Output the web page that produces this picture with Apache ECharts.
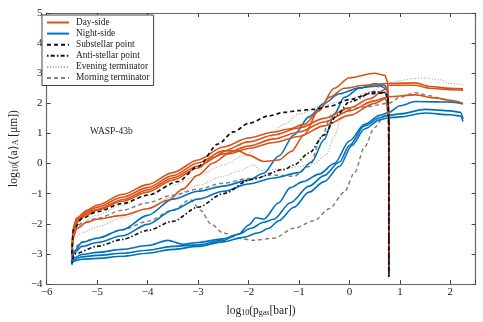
<!DOCTYPE html>
<html><head><meta charset="utf-8">
<script src="https://cdn.jsdelivr.net/npm/echarts@6/dist/echarts.min.js"></script>
<style>html,body{margin:0;padding:0;background:#fff}#c{width:483px;height:322px}</style>
</head><body><div id="c"></div>
<script>
// ---- axis ticks ----
const xTicks = [-6, -5, -4, -3, -2, -1, 0, 1, 2];
const xMax = 2.5;
const yTicks = [-4, -3, -2, -1, 0, 1, 2, 3, 4, 5];
const legendNames = ['Day-side', 'Night-side', 'Substellar point', 'Anti-stellar point', 'Evening terminator', 'Morning terminator'];
const annotation = 'WASP-43b';

// ---- Day-side (orange) ----
const day1 = [[-5.5,-3.1],[-5.47,-2.3],[-5.4,-1.95],[-5.2,-1.7],[-5,-1.55],[-4.5,-1.25],[-4,-0.95],[-3.5,-0.55],[-3,-0.15],[-2.7,0.2],[-2.45,0.42],[-2.2,0.42],[-2,0.28],[-1.7,0.07],[-1.4,0.12],[-1.15,0.4],[-0.9,0.95],[-0.6,1.8],[-0.3,2.5],[0,2.85],[0.5,3.0],[0.7,2.93],[0.76,2.7],[0.78,1.5],[0.78,-3.75]];
const day2 = [[-5.5,-3.0],[-5.47,-2.1],[-5.4,-1.8],[-5.2,-1.55],[-5,-1.38],[-4.5,-1.03],[-4,-0.7],[-3.5,-0.3],[-3,0.12],[-2.5,0.55],[-2,0.85],[-1.5,1.05],[-1.2,1.15],[-0.9,1.3],[-0.6,1.75],[-0.4,2.2],[-0.1,2.5],[0.3,2.6],[0.78,2.66],[1.3,2.68],[1.6,2.56],[2.0,2.5],[2.25,2.48]];
const day3 = [[-5.5,-3.0],[-5.47,-2.15],[-5.4,-1.85],[-5.2,-1.6],[-5,-1.45],[-4.5,-1.12],[-4,-0.8],[-3.5,-0.4],[-3,0.02],[-2.5,0.42],[-2,0.72],[-1.5,0.95],[-1,1.18],[-0.5,1.5],[0,1.85],[0.4,2.15],[0.7,2.45],[0.78,2.6],[1.3,2.6],[1.6,2.5],[2.0,2.45],[2.25,2.44]];
const day4 = [[-5.5,-3.0],[-5.47,-2.2],[-5.4,-1.9],[-5.2,-1.65],[-5,-1.52],[-4.5,-1.2],[-4,-0.88],[-3.5,-0.48],[-3,-0.08],[-2.5,0.32],[-2,0.58],[-1.5,0.82],[-1,1.05],[-0.5,1.38],[0,1.75],[0.5,2.08],[0.78,2.22],[1.3,2.28],[1.7,2.18],[2.0,2.1],[2.25,2.0]];
const day5 = [[-5.5,-3.1],[-5.47,-2.45],[-5.4,-2.15],[-5.2,-1.95],[-5,-1.85],[-4.5,-1.72],[-4,-1.5],[-3.6,-1.22],[-3.3,-0.85],[-3,-0.38],[-2.7,0.02],[-2.4,0.32],[-2,0.5],[-1.5,0.7],[-1,0.9],[-0.5,1.25],[0,1.6],[0.5,2.0],[0.72,2.15],[0.78,1.5],[0.78,-3.75]];

// ---- Night-side (blue) ----
const night1 = [[-5.5,-3.3],[-5.47,-2.95],[-5.3,-2.62],[-5,-2.48],[-4.5,-2.2],[-4,-1.72],[-3.5,-1.18],[-3,-0.92],[-2.5,-0.75],[-2,-0.55],[-1.7,-0.32],[-1.4,0.25],[-1.1,0.95],[-0.8,1.55],[-0.5,2.0],[-0.2,2.32],[0.2,2.52],[0.6,2.58],[0.74,2.48],[0.78,1.5],[0.78,-3.75]];
const night2 = [[-5.5,-3.3],[-5.47,-3.0],[-5.3,-2.75],[-5,-2.62],[-4.5,-2.4],[-4,-2.02],[-3.5,-1.55],[-3,-1.18],[-2.5,-0.92],[-2,-0.68],[-1.5,-0.48],[-1,-0.3],[-0.75,0.05],[-0.5,0.8],[-0.3,1.65],[-0.1,2.2],[0.2,2.5],[0.5,2.65],[0.7,2.6],[0.76,2.45],[0.78,1.5],[0.78,-3.75]];
const night3 = [[-5.5,-3.35],[-5.47,-3.15],[-5.3,-3.02],[-5,-2.95],[-4.5,-2.85],[-4,-2.72],[-3.6,-2.55],[-3.3,-2.68],[-3,-2.62],[-2.5,-2.5],[-2.2,-2.35],[-2.0,-2.05],[-1.85,-1.8],[-1.7,-1.85],[-1.4,-1.3],[-1.17,-0.8],[-0.92,-0.6],[-0.6,-0.35],[-0.3,0.0],[0,0.75],[0.3,1.3],[0.6,1.6],[0.78,1.7],[1.0,1.92],[1.3,2.06],[1.7,2.05],[2.05,2.04],[2.25,1.98]];
const night4 = [[-5.5,-3.35],[-5.47,-3.2],[-5.3,-3.1],[-5,-3.05],[-4.5,-2.98],[-4,-2.88],[-3.5,-2.75],[-3,-2.7],[-2.5,-2.55],[-2.2,-2.35],[-1.95,-2.15],[-1.7,-1.95],[-1.5,-1.85],[-1.17,-1.3],[-0.8,-0.75],[-0.5,-0.4],[-0.2,0.05],[0,0.6],[0.3,1.25],[0.6,1.52],[0.78,1.6],[1.0,1.65],[1.5,1.8],[2.0,1.75],[2.2,1.7],[2.25,1.48]];
const night5 = [[-5.5,-3.35],[-5.47,-3.25],[-5.3,-3.18],[-5,-3.15],[-4.5,-3.08],[-4,-2.98],[-3.5,-2.85],[-3,-2.75],[-2.5,-2.6],[-2.1,-2.45],[-1.8,-2.3],[-1.6,-2.15],[-1.4,-1.9],[-1.1,-1.45],[-0.8,-0.95],[-0.5,-0.6],[-0.2,-0.1],[0.05,0.6],[0.3,1.15],[0.6,1.45],[0.78,1.52],[1.0,1.55],[1.5,1.68],[2.0,1.62],[2.2,1.58],[2.25,1.4]];

// ---- Substellar point (black dashed) ----
const substellar = [[-5.5,-3.0],[-5.47,-2.2],[-5.3,-1.82],[-5,-1.6],[-4.5,-1.33],[-4,-1.05],[-3.4,-0.6],[-3,-0.1],[-2.6,0.65],[-2.3,1.05],[-2,1.33],[-1.6,1.58],[-1.3,1.7],[-1,1.76],[-0.7,1.8],[-0.4,1.9],[0,2.12],[0.4,2.32],[0.7,2.35],[0.76,2.2],[0.78,1.5],[0.78,-3.75]];

// ---- Anti-stellar point (black dash-dot) ----
const antistellar = [[-5.5,-3.3],[-5.45,-3.0],[-5,-2.75],[-4.5,-2.52],[-4,-2.22],[-3.5,-1.92],[-3,-1.45],[-2.5,-1.0],[-1.95,-0.53],[-1.3,-0.2],[-1.1,-0.05],[-0.8,0.35],[-0.5,0.95],[-0.25,1.6],[0,2.05],[0.5,2.38],[0.72,2.36],[0.76,2.2],[0.78,1.5],[0.78,-3.75]];

// ---- Evening terminator (grey dotted) ----
const evening1 = [[-5.5,-3.0],[-5.47,-2.2],[-5.3,-1.95],[-5,-1.72],[-4.5,-1.38],[-4,-1.05],[-3.5,-0.72],[-3,-0.4],[-2.5,-0.05],[-2.1,0.25],[-1.7,0.7],[-1.3,1.3],[-1,1.65],[-0.5,1.95],[0,2.15],[0.4,2.38],[0.78,2.7],[1.3,2.82],[1.5,2.84],[1.8,2.78],[2.0,2.66],[2.25,2.6]];
const evening2 = [[-5.5,-3.1],[-5.47,-2.5],[-5.3,-2.3],[-5,-2.1],[-4.5,-1.8],[-4,-1.5],[-3.5,-1.1],[-3,-0.72],[-2.5,-0.42],[-2.2,-0.25],[-1.9,-0.05],[-1.75,-0.22],[-1.3,-0.18],[-1,-0.1],[-0.7,0.0],[-0.45,0.3],[-0.3,0.9],[-0.15,1.6],[0,1.85],[0.4,2.05],[0.7,2.2],[0.77,2.0],[0.78,-3.75]];

// ---- Morning terminator (grey dashed) ----
const morning1 = [[-5.5,-2.9],[-5.47,-2.25],[-5.3,-1.98],[-5,-1.82],[-4.5,-1.55],[-4,-1.3],[-3.5,-1.05],[-3,-0.85],[-2.5,-0.65],[-2,-0.5],[-1.5,-0.38],[-1.1,-0.42],[-0.8,-0.1],[-0.55,0.9],[-0.35,1.62],[-0.1,1.78],[0.3,1.88],[0.78,2.0],[1.0,2.2],[1.3,2.35],[1.6,2.25],[1.8,2.15],[2.05,2.05]];
const morning2 = [[-5.5,-3.2],[-5.45,-2.8],[-5.3,-2.6],[-5,-2.48],[-4.5,-2.2],[-4,-1.92],[-3.5,-1.55],[-3.15,-1.2],[-2.95,-1.55],[-2.75,-2.0],[-2.5,-2.3],[-2.2,-2.48],[-1.9,-2.55],[-1.5,-2.48],[-1.1,-2.15],[-0.7,-1.9],[-0.4,-1.5],[-0.1,-0.95],[0.1,-0.3],[0.3,0.55],[0.5,1.2],[0.7,1.6],[0.76,1.7],[0.78,0.5],[0.78,-3.75]];

const FONT = 'Liberation Serif';
const groups = [
  { name: legendNames[4], lines: [evening1, evening2], color: '#b0b0b0', width: 1.1, type: [1.2, 1.6] },
  { name: legendNames[5], lines: [morning1, morning2], color: '#808080', width: 1.5, type: [4, 3] },
  { name: legendNames[1], lines: [night1, night2, night3, night4, night5], color: '#0072BD', width: 1.6, type: 'solid' },
  { name: legendNames[0], lines: [day1, day2, day3, day4, day5], color: '#D95319', width: 1.6, type: 'solid' },
  { name: legendNames[2], lines: [substellar], color: '#111111', width: 1.7, type: [4, 3] },
  { name: legendNames[3], lines: [antistellar], color: '#111111', width: 1.6, type: [1.5, 2.2, 4, 2.2] }
];

const series = [];
groups.forEach(g => {
  g.lines.forEach(d => {
    series.push({
      type: 'line', name: g.name, data: d, showSymbol: false, symbol: 'none',
      smooth: 0.3, smoothMonotone: 'x', animation: false,
      lineStyle: { color: g.color, width: g.width, type: g.type },
      itemStyle: { color: g.color },
      emphasis: { disabled: true }
    });
  });
});

const fmt = v => Number.isInteger(v) ? String(v).replace('-', '\u2212') : '';
const axCommon = {
  type: 'value',
  axisLine: { show: true, onZero: false, lineStyle: { color: '#666', width: 1.2 } },
  axisTick: { show: true, inside: true, length: 4, lineStyle: { color: '#444' } },
  splitLine: { show: false },
  axisLabel: { color: '#222', fontFamily: FONT, fontSize: 11, formatter: fmt }
};

const chart = echarts.init(document.getElementById('c'), null, { renderer: 'canvas' });
chart.setOption({
  animation: false,
  backgroundColor: '#fff',
  grid: { left: 38.7, right: 7.4, top: 13, bottom: 37 },
  legend: {
    data: legendNames, orient: 'vertical', left: 42, top: 15,
    backgroundColor: '#fff', borderColor: '#444', borderWidth: 1, borderRadius: 0,
    padding: [3, 4, 3, 4], itemWidth: 22, itemHeight: 8, itemGap: 2.1,
    itemStyle: { opacity: 0 },
    lineStyle: { width: 2 },
    textStyle: { fontFamily: FONT, fontSize: 9.3, lineHeight: 8, color: '#222', padding: [0, 0, 0, 2] },
    selectedMode: false
  },
  xAxis: [
    Object.assign({}, axCommon, {
      min: xTicks[0], max: xMax, interval: 1, position: 'bottom',
      axisLabel: Object.assign({}, axCommon.axisLabel, { margin: 3 }),
      name: '{a|log}{b|10}{a|(p}{b|gas}{a|[bar])}', nameLocation: 'middle', nameGap: 19,
      nameTextStyle: { rich: {
        a: { fontFamily: FONT, fontSize: 11.5, color: '#222', lineHeight: 14, verticalAlign: 'bottom' },
        b: { fontFamily: FONT, fontSize: 8, color: '#222', lineHeight: 7, verticalAlign: 'bottom' } } }
    }),
    Object.assign({}, axCommon, {
      min: xTicks[0], max: xMax, interval: 1, position: 'top',
      axisLabel: { show: false }
    })
  ],
  yAxis: [
    Object.assign({}, axCommon, {
      min: yTicks[0], max: yTicks[yTicks.length - 1], interval: 1, position: 'left',
      axisLabel: Object.assign({}, axCommon.axisLabel, { margin: 4 }),
      name: '{a|log}{b|10}{a|(\u27E8a\u27E9}{b|A}{a| [\u03BCm])}', nameLocation: 'middle', nameGap: 21, nameRotate: 90,
      nameTextStyle: { rich: {
        a: { fontFamily: FONT, fontSize: 11.5, color: '#222', lineHeight: 14, verticalAlign: 'bottom' },
        b: { fontFamily: FONT, fontSize: 8, color: '#222', lineHeight: 7, verticalAlign: 'bottom' } } }
    }),
    Object.assign({}, axCommon, {
      min: yTicks[0], max: yTicks[yTicks.length - 1], interval: 1, position: 'right',
      axisLabel: { show: false }
    })
  ],
  graphic: [{
    type: 'text', left: 90, top: 126,
    style: { text: annotation, font: '9.5px "Liberation Serif"', fill: '#222' }
  }],
  series: series
});
</script>
</body></html>
